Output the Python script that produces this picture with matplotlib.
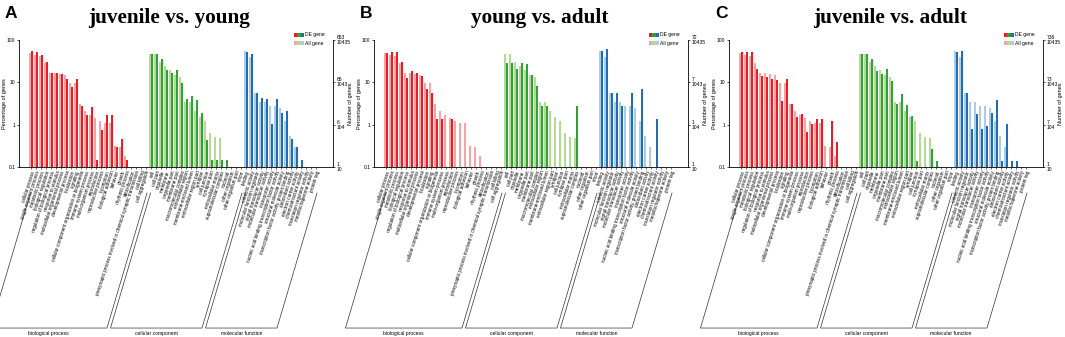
import numpy as np
import matplotlib
matplotlib.use('Agg')
import matplotlib.pyplot as plt
from matplotlib.patches import Rectangle
from matplotlib.ticker import NullLocator

plt.rcParams['font.family'] = ['Liberation Sans', 'DejaVu Sans']

# GO level-2 terms
bpTerms = ['cellular process', 'single-organism process', 'metabolic process', 'biological regulation',
           'regulation of biological process', 'response to stimulus', 'multicellular organismal process',
           'developmental process', 'localization', 'signaling',
           'cellular component organization or biogenesis', 'immune system process', 'multi-organism process',
           'reproduction', 'reproductive process', 'locomotion', 'biological adhesion', 'behavior', 'growth',
           'rhythmic process', 'detoxification',
           'presynaptic process involved in chemical synaptic transmission', 'cell killing', 'cell aggregation']
ccTerms = ['cell', 'cell part', 'organelle', 'membrane', 'organelle part', 'membrane part',
           'macromolecular complex', 'extracellular region', 'membrane-enclosed lumen',
           'extracellular region part', 'synapse', 'cell junction', 'synapse part', 'extracellular matrix',
           'supramolecular complex', 'nucleoid', 'other organism', 'other organism part', 'virion']
mfTerms = ['binding', 'catalytic activity', 'molecular function regulator', 'signal transducer activity',
           'molecular transducer activity', 'transporter activity',
           'nucleic acid binding transcription factor activity', 'structural molecule activity',
           'transcription factor activity, protein binding', 'antioxidant activity', 'electron carrier activity',
           'chemoattractant activity', 'translation regulator activity', 'metallochaperone activity',
           'protein tag']
groupNames = ['biological process', 'cellular component', 'molecular function']

# percentage of all genes (same background in every comparison)
allBP = [50, 44, 42, 28, 17, 17, 16, 15, 9.8, 9.5, 3.0, 2.1, 1.65, 1.4, 1.22, 1.1, 1.1, 0.32, 0.29, 0.18, 0, 0, 0, 0]
allCC = [46, 46, 31, 24, 19.5, 15, 13.5, 3.4, 3.5, 2.1, 1.5, 1.2, 0.65, 0.5, 0.48, 0, 0, 0, 0]
allMF = [55, 40, 5.5, 3.5, 3.5, 2.75, 2.7, 2.5, 1.22, 0.54, 0.3, 0, 0, 0, 0]

# percentage of DE genes per comparison
deBP_A = [55, 51, 45, 30, 17, 17, 16, 12, 7.8, 12, 2.7, 1.7, 2.6, 0.15, 0.75, 1.65, 1.65, 0.3, 0.45, 0.15, 0, 0, 0, 0]
deCC_A = [46, 46, 35, 20, 17, 20, 9.4, 4.0, 4.7, 3.8, 1.85, 0.43, 0.15, 0.15, 0.15, 0.15, 0, 0, 0]
deMF_A = [52, 46, 5.5, 4.2, 4.0, 1.05, 4.0, 1.85, 2.1, 0.45, 0.3, 0.15, 0, 0, 0]

deBP_B = [48.6, 51.4, 51.4, 30.6, 12.5, 18.1, 16.7, 13.9, 6.94, 5.56, 1.39, 1.39, 0, 1.39, 0, 0, 0, 0, 0, 0, 0, 0, 0, 0]
deCC_B = [29.2, 29.2, 20.8, 29.2, 27.8, 15.3, 8.3, 2.78, 2.78, 0, 0, 0, 0, 0, 2.78, 0, 0, 0, 0]
deMF_B = [55.6, 59.7, 5.56, 5.56, 2.78, 0, 5.56, 0, 6.94, 0, 0, 1.39, 0, 0, 0]

deBP_C = [53, 52, 51, 21, 14, 13.5, 12, 11.5, 3.7, 12, 3.0, 1.5, 1.75, 0.66, 1.05, 1.35, 1.35, 0, 1.2, 0.4, 0, 0, 0, 0]
deCC_C = [46, 46, 35, 18.5, 15.5, 21, 10.7, 3.0, 5.3, 2.9, 1.6, 0.136, 0, 0, 0.27, 0.136, 0, 0, 0]
deMF_C = [52, 56, 5.5, 0.8, 1.75, 0.8, 0.95, 1.85, 3.8, 0.136, 1.05, 0.136, 0.136, 0, 0]

panelLetters = ['A', 'B', 'C']
panelTitles = ['juvenile vs. young', 'young vs. adult', 'juvenile vs. adult']
titleCenters = [169, 185, 180]
rightDE = [['653', '65', '6', '1'], ['72', '7', '1', '1'], ['736', '73', '7', '1']]
rightAll = ['10435', '1043', '104', '10']
panelDE = [[deBP_A, deCC_A, deMF_A], [deBP_B, deCC_B, deMF_B], [deBP_C, deCC_C, deMF_C]]

darkColors = ['#ed1c24', '#2fa436', '#1f6db5']
lightColors = ['#f7a3a3', '#b2dc92', '#a9cde9']

figW, figH = 1065, 337
fig = plt.figure(figsize=(figW / 100, figH / 100), dpi=100)

groups = [bpTerms, ccTerms, mfTerms]
allGroups = [allBP, allCC, allMF]
terms = bpTerms + ccTerms + mfTerms


def barHeights(values):
    v = np.array(values, dtype=float)
    return np.where(v > 0.1, v - 0.1, 0)


for p in range(3):
    x0 = 355 * p
    ax = fig.add_axes([(x0 + 19) / figW, 1 - 167 / figH, 314 / figW, 127 / figH])
    ax.set_yscale('log')

    start = 0
    for g in range(3):
        idx = np.arange(start, start + len(groups[g]))
        ax.bar(idx - 0.2, barHeights(allGroups[g]), width=0.38, bottom=0.1, color=lightColors[g], linewidth=0)
        ax.bar(idx + 0.2, barHeights(panelDE[p][g]), width=0.38, bottom=0.1, color=darkColors[g], linewidth=0)

        # slanted bracket under the labels of each category
        a, b = start - 0.1, start + len(groups[g]) - 1 + 0.2
        topY, botY, shift = -0.205, -1.268, 8
        tr = ax.get_xaxis_transform()
        ax.plot([a, a - shift, b - shift, b], [topY, botY, botY, topY], color='#333333', lw=0.5,
                transform=tr, clip_on=False)
        ax.text((a + b) / 2 - shift, -1.31, groupNames[g], transform=tr, fontsize=3.6,
                ha='center', va='center')
        start += len(groups[g])

    ax.set_xlim(-2.4, 60.4)
    ax.set_ylim(0.1, 100)
    ax.set_xticks(np.arange(len(terms)))
    ax.set_xticklabels(terms, rotation=72, ha='right', rotation_mode='anchor', fontsize=3.3)
    ax.set_yticks([0.1, 1, 10, 100])
    ax.set_yticklabels(['0.1', '1', '10', '100'], fontsize=3.6)
    ax.yaxis.set_minor_locator(NullLocator())
    ax.tick_params(axis='x', length=1.2, width=0.4, pad=1)
    ax.tick_params(axis='y', length=1.5, width=0.5, pad=1, right=True)
    ax.spines['top'].set_visible(False)
    for s in ['left', 'bottom', 'right']:
        ax.spines[s].set_linewidth(0.6)

    ax.text(-0.045, 0.5, 'Percentage of genes', transform=ax.transAxes, rotation=90,
            fontsize=4, ha='center', va='center')
    ax.text(1.055, 0.5, 'Number of genes', transform=ax.transAxes, rotation=90,
            fontsize=4, ha='center', va='center')

    # double right axis: DE gene counts above each tick, all gene counts below
    ytr = ax.get_yaxis_transform()
    for v, de, al in zip([100, 10, 1, 0.1], rightDE[p], rightAll):
        ax.text(1.012, v, de, transform=ytr, fontsize=3.6, ha='left', va='bottom')
        ax.text(1.012, v, al, transform=ytr, fontsize=3.6, ha='left', va='top')

    # legend
    sw, sh = 3.4 / 314, 3.5 / 127
    for row, (cols, label, yc) in enumerate([(darkColors, 'DE gene', 1.04), (lightColors, 'All gene', 0.976)]):
        for k, c in enumerate(cols):
            ax.add_patch(Rectangle((0.876 + k * sw, yc - sh / 2), sw, sh, color=c,
                                   transform=ax.transAxes, clip_on=False, linewidth=0))
        ax.text(0.876 + 3 * sw + 0.003, yc, label, transform=ax.transAxes, fontsize=3.6,
                ha='left', va='center')

    fig.text((x0 + titleCenters[p]) / figW, 1 - 18 / figH, panelTitles[p], fontsize=15.3, fontweight='bold',
             family='Liberation Serif', ha='center', va='center')
    fig.text((x0 + 5) / figW, 1 - 14 / figH, panelLetters[p], fontsize=12.5, fontweight='bold',
             ha='left', va='center')

fig.savefig('out.png', dpi=100)
